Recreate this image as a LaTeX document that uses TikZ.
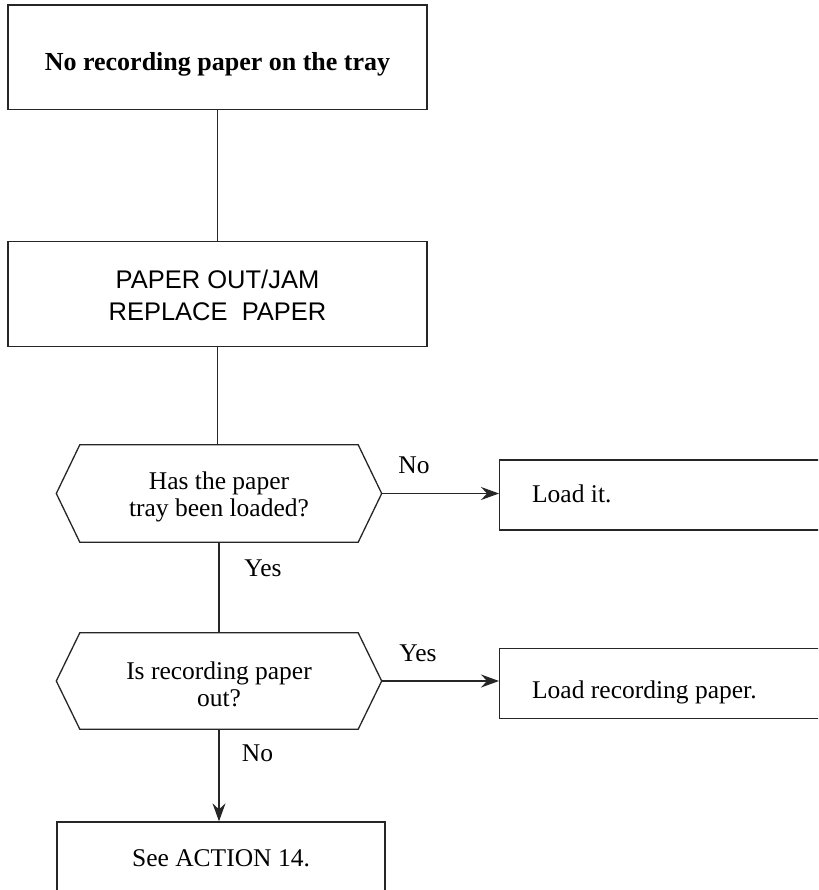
\documentclass[tikz,border=0pt]{standalone}
\usepackage{fontspec}
\setmainfont{Liberation Serif}
\newfontfamily\arialfont{Liberation Sans}
\usetikzlibrary{arrows.meta}
\begin{document}
\begin{tikzpicture}[x=1pt,y=-1pt,
  edgeline/.style={line width=1.3pt, draw=black!85},
  stbox/.style={edgeline, rectangle, inner xsep=0pt, inner ysep=0pt, font=\fontsize{25.5}{27}\selectfont, anchor=base},
  hexbox/.style={rectangle, inner sep=0pt, minimum width=278pt, font=\fontsize{25.5}{27}\selectfont, anchor=base},
  hexline/.style={edgeline, line join=miter},
  lbl/.style={inner sep=0pt, font=\fontsize{25.5}{27}\selectfont},
  arr/.style={edgeline, -{Stealth[length=18pt,width=13pt,inset=6pt]}},
]
\useasboundingbox (0,0) rectangle (818,890);
\clip (0,0) rectangle (818,890);
\fill[white] (0,0) rectangle (818,890);

% boxes
\node[stbox, minimum width=419pt, text height=65.5pt, text depth=39pt,
      font=\bfseries\fontsize{26}{28}\selectfont] (start) at (217.5,70.5) {No recording paper on the tray};
\node[stbox, minimum width=419pt, text height=46.8pt, text depth=58.4pt,
      font=\arialfont\fontsize{25.5}{32}\selectfont] (msg) at (217.5,288.3)
      {\begin{tabular}[t]{@{}c@{}}PAPER OUT/JAM\\REPLACE\ \ PAPER\end{tabular}};

% decision 1
\node[hexbox, text height=44pt, text depth=53pt] (q1) at (219,489)
      {\begin{tabular}[t]{@{}c@{}}Has the paper\\tray been loaded?\end{tabular}};
\coordinate (q1e) at ([xshift=23.5pt]q1.east);
\coordinate (q1w) at ([xshift=-23.5pt]q1.west);
\draw[hexline] (q1.north west) -- (q1.north east) -- (q1e) -- (q1.south east)
      -- (q1.south west) -- (q1w) -- cycle;

% decision 2
\node[hexbox, text height=46pt, text depth=50pt] (q2) at (219,679)
      {\begin{tabular}[t]{@{}c@{}}Is recording paper\\out?\end{tabular}};
\coordinate (q2e) at ([xshift=23.5pt]q2.east);
\coordinate (q2w) at ([xshift=-23.5pt]q2.west);
\draw[hexline] (q2.north west) -- (q2.north east) -- (q2e) -- (q2.south east)
      -- (q2.south west) -- (q2w) -- cycle;

% action boxes
\node[stbox, anchor=base west, inner xsep=32.5pt, text height=42pt, text depth=28pt] (load1) at (499,502)
      {\makebox[300pt][l]{Load it.}};
\node[stbox, anchor=base west, inner xsep=32.5pt, text height=50pt, text depth=20pt] (load2) at (499,698.3)
      {\makebox[300pt][l]{Load recording paper.}};
\node[stbox, minimum width=328pt, text height=44pt, text depth=40pt] (see) at (221,866) {See ACTION 14.};

% connectors
\draw[edgeline] (start.south) -- (start.south |- msg.north);
\draw[edgeline] (msg.south) -- (msg.south |- q1.north);
\draw[edgeline] (q1.south) -- (q1.south |- q2.north);
\draw[arr] (q1e) -- (q1e -| load1.west);
\draw[arr] (q2e) -- (q2e -| load2.west);
\draw[arr] (q2.south) -- (q2.south |- see.north);

% labels
\node[lbl] (l1) at (414,465) {No};
\node[lbl] (l2) at (263,568.5) {Yes};
\node[lbl] (l3) at (418,653) {Yes};
\node[lbl] (l4) at (257.5,753.5) {No};
\end{tikzpicture}
\end{document}
